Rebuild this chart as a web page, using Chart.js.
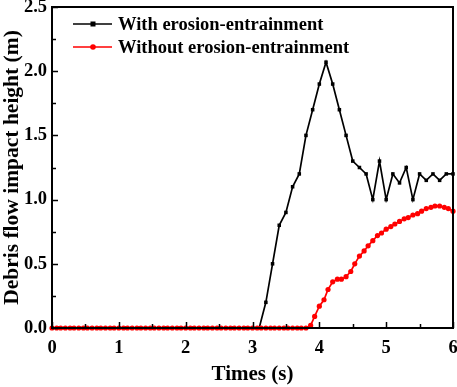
<!DOCTYPE html>
<html>
<head>
<meta charset="utf-8">
<script src="https://cdn.jsdelivr.net/npm/chart.js@4/dist/chart.umd.min.js"></script>
<style>
  html, body { margin: 0; padding: 0; background: #fff; }
  #wrap { width: 457px; height: 387px; }
</style>
</head>
<body>
<div id="wrap"><canvas id="impactChart"></canvas></div>
<script>
// time (s) and height (m)
const withTimes = [0, 0.1, 0.2, 0.3, 0.4, 0.5, 0.6, 0.7, 0.8, 0.9, 1, 1.1, 1.2, 1.3, 1.4, 1.5, 1.6, 1.7, 1.8, 1.9,
    2, 2.1, 2.2, 2.3, 2.4, 2.5, 2.6, 2.7, 2.8, 2.9, 3, 3.1, 3.2, 3.3, 3.4, 3.5, 3.6, 3.7, 3.8, 3.9,
    4, 4.1, 4.2, 4.3, 4.4, 4.5, 4.6, 4.7, 4.8, 4.9, 5, 5.1, 5.2, 5.3, 5.4, 5.5, 5.6, 5.7, 5.8, 5.9, 6];
const withHeights = [0, 0, 0, 0, 0, 0, 0, 0, 0, 0, 0, 0, 0, 0, 0, 0, 0, 0, 0, 0,
    0, 0, 0, 0, 0, 0, 0, 0, 0, 0, 0, 0, 0.2, 0.5, 0.8, 0.9, 1.1, 1.2, 1.5, 1.7,
    1.9, 2.07, 1.9, 1.7, 1.5, 1.3, 1.25, 1.2, 1.0, 1.3, 1.0, 1.2, 1.13, 1.25, 1.0, 1.2, 1.15, 1.2, 1.15, 1.2, 1.2];

const withoutTimes = [0, 0.07, 0.13, 0.2, 0.27, 0.33, 0.4, 0.47, 0.53, 0.6, 0.67, 0.73, 0.8, 0.87, 0.93,
    1, 1.07, 1.13, 1.2, 1.27, 1.33, 1.4, 1.47, 1.53, 1.6, 1.67, 1.73, 1.8, 1.87, 1.93,
    2, 2.07, 2.13, 2.2, 2.27, 2.33, 2.4, 2.47, 2.53, 2.6, 2.67, 2.73, 2.8, 2.87, 2.93,
    3, 3.07, 3.13, 3.2, 3.27, 3.33, 3.4, 3.47, 3.53, 3.6, 3.67, 3.73, 3.8, 3.87, 3.93,
    4, 4.07, 4.13, 4.2, 4.27, 4.33, 4.4, 4.47, 4.53, 4.6, 4.67, 4.73, 4.8, 4.87, 4.93,
    5, 5.07, 5.13, 5.2, 5.27, 5.33, 5.4, 5.47, 5.53, 5.6, 5.67, 5.73, 5.8, 5.87, 5.93, 6];
const withoutHeights = [0, 0, 0, 0, 0, 0, 0, 0, 0, 0, 0, 0, 0, 0, 0,
    0, 0, 0, 0, 0, 0, 0, 0, 0, 0, 0, 0, 0, 0, 0,
    0, 0, 0, 0, 0, 0, 0, 0, 0, 0, 0, 0, 0, 0, 0,
    0, 0, 0, 0, 0, 0, 0, 0, 0, 0, 0, 0, 0, 0.02, 0.09,
    0.17, 0.22, 0.30, 0.36, 0.38, 0.38, 0.40, 0.44, 0.50, 0.56, 0.60, 0.64, 0.68, 0.72, 0.74,
    0.77, 0.79, 0.81, 0.83, 0.85, 0.86, 0.88, 0.89, 0.91, 0.93, 0.94, 0.95, 0.95, 0.94, 0.93, 0.91];

const seriesNames = ['With erosion-entrainment', 'Without erosion-entrainment'];
const xTicks = [0, 1, 2, 3, 4, 5, 6];
const yTicks = [0, 0.5, 1.0, 1.5, 2.0, 2.5];

const FONT = '"Liberation Serif", "Times New Roman", serif';

function toPoints(xs, ys) {
    return xs.map((x, i) => ({ x: x, y: ys[i] }));
}

/** Inward ticks, frame and legend. */
const decorPlugin = {
    id: 'decor',
    afterDraw(chart) {
        const ctx = chart.ctx;
        const a = chart.chartArea;
        const xs = chart.scales.x, ys = chart.scales.y;
        ctx.save();
        ctx.strokeStyle = '#000';
        ctx.lineWidth = 1.5;
        ctx.beginPath();
        for (let v = 0; v <= 6.001; v += 0.5) {
            const px = Math.round(xs.getPixelForValue(v)) + 0.5;
            const len = Math.abs(v - Math.round(v)) < 0.01 ? 6 : 4;
            ctx.moveTo(px, a.bottom);
            ctx.lineTo(px, a.bottom - len);
        }
        for (let v = 0; v <= 2.501; v += 0.25) {
            const py = Math.round(ys.getPixelForValue(v)) + 0.5;
            const len = Math.abs(v * 2 - Math.round(v * 2)) < 0.01 ? 6 : 4;
            ctx.moveTo(a.left, py);
            ctx.lineTo(a.left + len, py);
        }
        ctx.stroke();

        ctx.lineWidth = 2;
        ctx.strokeRect(a.left, a.top, a.right - a.left, a.bottom - a.top);

        // legend
        const rows = [
            { y: 24, color: '#000', square: true, label: seriesNames[0] },
            { y: 47, color: '#ff0000', square: false, label: seriesNames[1] }
        ];
        ctx.font = 'bold 18.5px ' + FONT;
        ctx.textBaseline = 'middle';
        rows.forEach(r => {
            ctx.strokeStyle = r.color;
            ctx.fillStyle = r.color;
            ctx.lineWidth = 1.5;
            ctx.beginPath();
            ctx.moveTo(73, r.y);
            ctx.lineTo(112, r.y);
            ctx.stroke();
            if (r.square) {
                ctx.fillRect(90.5, r.y - 2.5, 5, 5);
            } else {
                ctx.beginPath();
                ctx.arc(93, r.y, 2.8, 0, Math.PI * 2);
                ctx.fill();
            }
            ctx.fillStyle = '#000';
            ctx.fillText(r.label, 118, r.y + 1);
        });
        ctx.restore();
    }
};

const ctxL = document.getElementById('impactChart').getContext('2d');

new Chart(ctxL, {
    type: 'line',
    data: {
        datasets: [{
            label: seriesNames[0],
            data: toPoints(withTimes, withHeights),
            borderColor: '#000',
            backgroundColor: '#000',
            borderWidth: 1.7,
            pointStyle: 'rect',
            pointRadius: 2.5,
            pointBorderWidth: 0,
            tension: 0,
            clip: false,
            order: 1
        }, {
            label: seriesNames[1],
            data: toPoints(withoutTimes, withoutHeights),
            borderColor: '#ff0000',
            backgroundColor: '#ff0000',
            borderWidth: 1.7,
            pointStyle: 'circle',
            pointRadius: 2.6,
            pointBorderWidth: 0,
            tension: 0,
            clip: false,
            order: 0
        }]
    },
    options: {
        responsive: true,
        maintainAspectRatio: false,
        animation: false,
        layout: { padding: { top: 7, right: 3, left: 0, bottom: 0 } },
        plugins: {
            legend: { display: false },
            tooltip: { enabled: false }
        },
        scales: {
            x: {
                type: 'linear',
                min: 0,
                max: 6,
                afterBuildTicks: axis => { axis.ticks = xTicks.map(v => ({ value: v })); },
                afterFit: axis => { axis.height = 59; axis.paddingLeft = 0; axis.paddingRight = 0; },
                grid: { display: false, drawTicks: false },
                border: { display: false },
                ticks: {
                    padding: 9,
                    color: '#000',
                    font: { family: FONT, size: 18.5, weight: 'bold' }
                },
                title: {
                    display: true,
                    text: 'Times (s)',
                    color: '#000',
                    padding: { top: 0, bottom: 0 },
                    font: { family: FONT, size: 21, weight: 'bold' }
                }
            },
            y: {
                min: 0,
                max: 2.5,
                afterBuildTicks: axis => { axis.ticks = yTicks.map(v => ({ value: v })); },
                afterFit: axis => { axis.width = 52; axis.paddingTop = 0; axis.paddingBottom = 0; },
                grid: { display: false, drawTicks: false },
                border: { display: false },
                ticks: {
                    padding: 5,
                    color: '#000',
                    callback: v => Number(v).toFixed(1),
                    font: { family: FONT, size: 18.5, weight: 'bold' }
                },
                title: {
                    display: true,
                    text: 'Debris flow impact height (m)',
                    color: '#000',
                    padding: { top: 0, bottom: 0 },
                    font: { family: FONT, size: 21.5, weight: 'bold' }
                }
            }
        }
    },
    plugins: [decorPlugin]
});
</script>
</body>
</html>
